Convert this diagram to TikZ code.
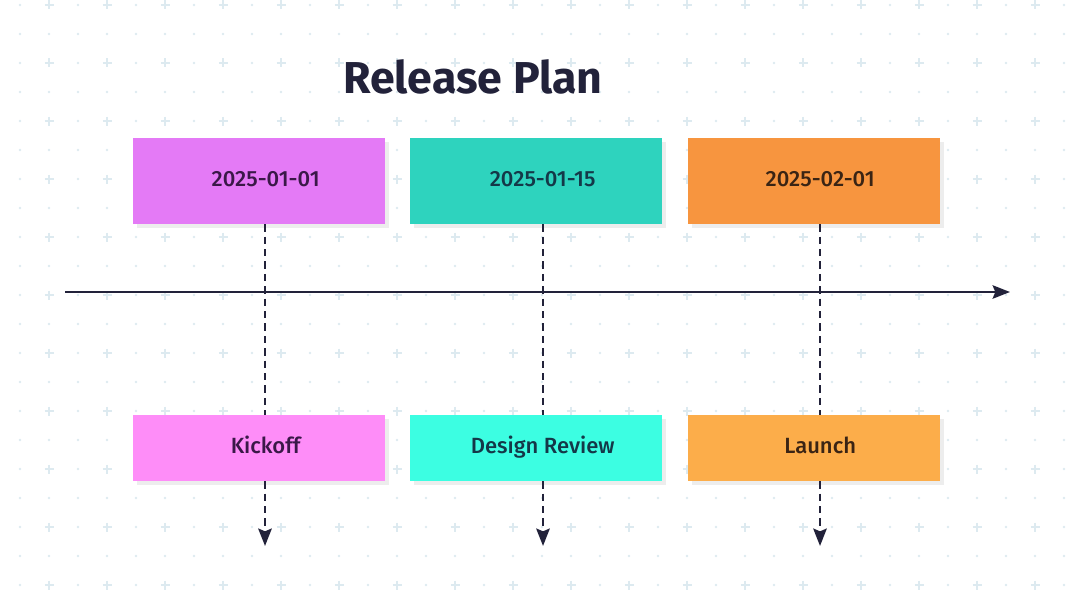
\documentclass[tikz,border=0pt]{standalone}
\usepackage{fontspec}
\setmainfont{Fira Sans}
\newfontfamily\cardfont{Fira Sans Medium}
\usepackage{tikz}
\usetikzlibrary{arrows.meta,shadows}
\usepackage{xcolor}
\definecolor{InkNavy}{HTML}{22223A}
\definecolor{GridBlue}{HTML}{DDEAF0}
\definecolor{DateOne}{HTML}{E47AF6}
\definecolor{DateTwo}{HTML}{2ED3BE}
\definecolor{DateThree}{HTML}{F7953F}
\definecolor{TaskOne}{HTML}{FE8DF8}
\definecolor{TaskTwo}{HTML}{3CFEE2}
\definecolor{TaskThree}{HTML}{FCAD4A}
\definecolor{InkPlum}{HTML}{3A1848}
\definecolor{InkTeal}{HTML}{143848}
\definecolor{InkBrown}{HTML}{3A2414}

\tikzset{
  card/.style={minimum width=252*0.75pt, inner sep=0pt,
    general shadow={fill=black!7, shadow xshift=3pt, shadow yshift=-3pt}},
  cardtext/.style={font=\cardfont\fontsize{16.5}{18}\selectfont,
    text height=11.5pt, text depth=0pt, inner sep=0pt},
  datecard/.style={card, minimum height=86*0.75pt},
  taskcard/.style={card, minimum height=66*0.75pt},
  guide/.style={InkNavy, line width=2.2pt, dash pattern=on 5.5pt off 3.8pt},
}

\begin{document}
\begin{tikzpicture}[x=0.75pt, y=-0.75pt]
    \useasboundingbox (0,0) rectangle (1080,610);
    % background grid
    \foreach \k in {0,...,37}{
      \foreach \m in {0,...,21}{
        \pgfmathtruncatemacro{\isodd}{mod(\k,2)}
        \pgfmathtruncatemacro{\iseven}{1-mod(\m,2)}
        \ifnum\isodd\iseven=11
          \draw[GridBlue, line width=0.9pt] (20+29*\k-4.5,5+29*\m) -- ++(9,0)
            (20+29*\k,5+29*\m-4.5) -- ++(0,9);
        \else
          \fill[GridBlue] (20+29*\k,5+29*\m) circle (1.3);
        \fi
      }
    }

    \node[font=\bfseries\fontsize{33.5}{36}\selectfont, text=InkNavy] (title) at (473,77) {Release Plan};

    \node[datecard, fill=DateOne, label={[cardtext, text=InkPlum, xshift=5pt, yshift=1.5pt]center:2025-01-01}] (d1) at (259,181) {};
    \node[datecard, fill=DateTwo, label={[cardtext, text=InkTeal, xshift=5pt, yshift=1.5pt]center:2025-01-15}] (d2) at (536,181) {};
    \node[datecard, fill=DateThree, label={[cardtext, text=InkBrown, xshift=5pt, yshift=1.5pt]center:2025-02-01}] (d3) at (813.5,181) {};

    \node[taskcard, fill=TaskOne, label={[cardtext, text=InkPlum, xshift=5pt, yshift=2pt]center:Kickoff}] (t1) at (259,448) {};
    \node[taskcard, fill=TaskTwo, label={[cardtext, text=InkTeal, xshift=5pt, yshift=2pt]center:Design Review}] (t2) at (536,448) {};
    \node[taskcard, fill=TaskThree, label={[cardtext, text=InkBrown, xshift=5pt, yshift=2pt]center:Launch}] (t3) at (813.5,448) {};

    \coordinate (start) at (65,292);
    \coordinate (stop) at (1010,292);
    \draw[InkNavy, line width=1.9pt, -{Stealth[length=13pt,width=10pt,inset=2pt]}] (start) -- (stop);

    \foreach \i/\x in {1/265,2/543,3/820}{
      \coordinate (e\i) at (\x,546);
      \draw[guide] (d\i.south -| e\i) -- (t\i.north -| e\i);
      \draw[guide, -{Stealth[length=13pt,width=10pt,inset=2pt]}] (t\i.south -| e\i) -- (e\i);
    }
\end{tikzpicture}
\end{document}
